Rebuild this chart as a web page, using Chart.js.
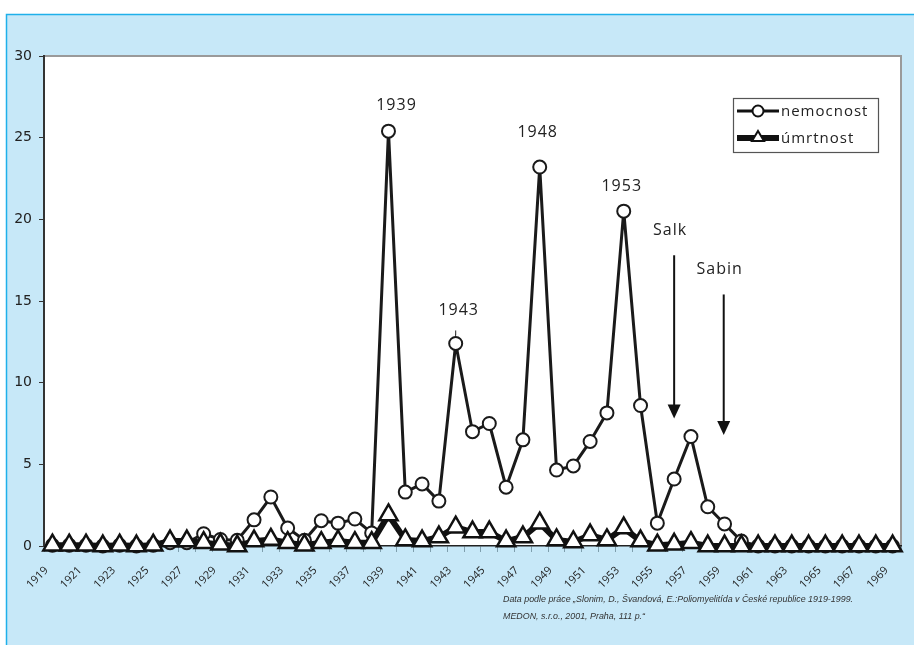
<!DOCTYPE html>
<html lang="cs">
<head>
  <meta charset="UTF-8" />
  <title>Poliomyelitida 1919-1969</title>
  <script src="https://cdn.jsdelivr.net/npm/chart.js"></script>
  <style>
    body { margin: 0; background: #ffffff; }
    #wrap { width: 914px; height: 645px; position: relative; }
  </style>
</head>
<body>
<div id="wrap"><canvas id="polioChart"></canvas></div>

<script>
  // kategorie (roky)
  const years = [
    "1919","1920","1921","1922","1923","1924","1925","1926","1927","1928",
    "1929","1930","1931","1932","1933","1934","1935","1936","1937","1938",
    "1939","1940","1941","1942","1943","1944","1945","1946","1947","1948",
    "1949","1950","1951","1952","1953","1954","1955","1956","1957","1958",
    "1959","1960","1961","1962","1963","1964","1965","1966","1967","1968","1969"
  ];

  // nemocnost (na 100 000 obyv.)
  const nemocnost = [
    0.05, 0.05, 0.05, 0, 0.05, 0, 0.05, 0.2, 0.2, 0.75,
    0.4, 0.35, 1.6, 3.0, 1.1, 0.35, 1.55, 1.4, 1.65, 0.8,
    25.4, 3.3, 3.8, 2.75, 12.4, 7.0, 7.5, 3.6, 6.5, 23.2,
    4.65, 4.9, 6.4, 8.15, 20.5, 8.6, 1.4, 4.1, 6.7, 2.4,
    1.35, 0.3, 0, 0, 0, 0, 0, 0, 0, 0, 0
  ];

  // úmrtnost
  const umrtnost = [
    0.05, 0.05, 0.05, 0, 0.05, 0, 0.05, 0.3, 0.3, 0.2,
    0.1, 0, 0.3, 0.4, 0.2, 0.05, 0.2, 0.3, 0.2, 0.2,
    1.9, 0.37, 0.3, 0.55, 1.15, 0.85, 0.85, 0.3, 0.55, 1.4,
    0.37, 0.25, 0.67, 0.37, 1.1, 0.3, 0.05, 0.1, 0.2, 0,
    0, 0, 0, 0, 0, 0, 0, 0, 0, 0, 0
  ];

  const yTicks = [0, 5, 10, 15, 20, 25, 30];

  // popisky epidemií: [text, index roku, hodnota]
  const peakLabels = [
    ["1939", 20, 25.4],
    ["1943", 24, 12.4],
    ["1948", 29, 23.2],
    ["1953", 34, 20.5]
  ];

  // šipky očkování: [text, index (x), začátek, konec]
  const vaccineArrows = [
    ["Salk", 37, 17.8, 7.8],
    ["Sabin", 39.95, 15.4, 6.8]
  ];

  const sourceLines = [
    "Data podle práce \u201ESlonim, D., \u0160vandov\u00E1, E.:Poliomyelit\u00EDda v \u010Cesk\u00E9 republice 1919-1999.",
    "MEDON, s.r.o., 2001, Praha, 111 p.\u201C"
  ];

  const annoFont = "16px 'Open Sans', sans-serif";
  // posun popisků vůči bodu (px)
  const peakShift = { "1939": [8, -21], "1943": [3, -28], "1948": [-2, -30], "1953": [-2, -20] };

  const backdrop = {
    id: 'backdrop',
    beforeDraw(chart) {
      const ctx = chart.ctx;
      const a = chart.chartArea;
      ctx.save();
      ctx.fillStyle = '#c7e8f8';
      ctx.fillRect(6, 14, chart.width, chart.height);
      ctx.strokeStyle = '#1fb0ea';
      ctx.lineWidth = 1.5;
      ctx.beginPath();
      ctx.moveTo(chart.width + 2, 14.5);
      ctx.lineTo(6.5, 14.5);
      ctx.lineTo(6.5, chart.height + 2);
      ctx.stroke();
      ctx.fillStyle = '#ffffff';
      ctx.fillRect(a.left, a.top, a.right - a.left, a.bottom - a.top);
      ctx.strokeStyle = '#9a9a9a';
      ctx.lineWidth = 2;
      ctx.beginPath();
      ctx.moveTo(a.left, a.top);
      ctx.lineTo(a.right, a.top);
      ctx.lineTo(a.right, a.bottom + 4);
      ctx.stroke();
      ctx.restore();
    }
  };

  const notes = {
    id: 'notes',
    afterDraw(chart) {
      const ctx = chart.ctx;
      const xs = chart.scales.x;
      const ys = chart.scales.y;
      ctx.save();
      ctx.fillStyle = '#222';
      ctx.font = annoFont;
      ctx.textAlign = 'center';
      ctx.textBaseline = 'alphabetic';
      if ('letterSpacing' in ctx) ctx.letterSpacing = '1px';

      peakLabels.forEach(([txt, i, v]) => {
        const x = xs.getPixelForValue(i);
        const y = ys.getPixelForValue(v);
        const s = peakShift[txt];
        ctx.fillText(txt, x + s[0], y + s[1]);
      });
      // malá čárka nad 1943
      const x43 = xs.getPixelForValue(24), y43 = ys.getPixelForValue(12.4);
      ctx.strokeStyle = '#222';
      ctx.lineWidth = 1;
      ctx.beginPath();
      ctx.moveTo(x43, y43 - 8);
      ctx.lineTo(x43, y43 - 13);
      ctx.stroke();

      vaccineArrows.forEach(([txt, i, v0, v1]) => {
        const x = xs.getPixelForValue(i);
        const y0 = ys.getPixelForValue(v0);
        const y1 = ys.getPixelForValue(v1);
        ctx.fillStyle = '#222';
        ctx.fillText(txt, x - 4, y0 - 20);
        ctx.strokeStyle = '#111';
        ctx.lineWidth = 2;
        ctx.beginPath();
        ctx.moveTo(x, y0);
        ctx.lineTo(x, y1 - 12);
        ctx.stroke();
        ctx.fillStyle = '#111';
        ctx.beginPath();
        ctx.moveTo(x - 6.5, y1 - 14);
        ctx.lineTo(x + 6.5, y1 - 14);
        ctx.lineTo(x, y1);
        ctx.closePath();
        ctx.fill();
      });

      // legenda
      const lx = 733, ly = 98, lw = 145, lh = 54;
      ctx.fillStyle = '#ffffff';
      ctx.fillRect(lx, ly, lw, lh);
      ctx.strokeStyle = '#555';
      ctx.lineWidth = 1.2;
      ctx.strokeRect(lx + 0.5, ly + 0.5, lw, lh);

      ctx.strokeStyle = '#111';
      ctx.lineWidth = 3;
      ctx.beginPath();
      ctx.moveTo(lx + 4, ly + 13);
      ctx.lineTo(lx + 46, ly + 13);
      ctx.stroke();
      ctx.fillStyle = '#fff';
      ctx.lineWidth = 2;
      ctx.beginPath();
      ctx.arc(lx + 25, ly + 13, 5.5, 0, Math.PI * 2);
      ctx.fill();
      ctx.stroke();

      ctx.lineWidth = 6;
      ctx.beginPath();
      ctx.moveTo(lx + 4, ly + 40);
      ctx.lineTo(lx + 46, ly + 40);
      ctx.stroke();
      ctx.fillStyle = '#fff';
      ctx.lineWidth = 2;
      ctx.beginPath();
      ctx.moveTo(lx + 25, ly + 33);
      ctx.lineTo(lx + 31, ly + 43);
      ctx.lineTo(lx + 19, ly + 43);
      ctx.closePath();
      ctx.fill();
      ctx.stroke();

      ctx.fillStyle = '#222';
      ctx.font = "15px 'Open Sans', sans-serif";
      ctx.textAlign = 'left';
      ctx.textBaseline = 'middle';
      ctx.fillText('nemocnost', lx + 48, ly + 14);
      ctx.fillText('\u00FAmrtnost', lx + 48, ly + 41);

      // zdroj
      if ('letterSpacing' in ctx) ctx.letterSpacing = '0px';
      ctx.font = "italic 9.5px 'Liberation Sans', Arial, sans-serif";
      ctx.fillStyle = '#333';
      ctx.textBaseline = 'alphabetic';
      ctx.translate(503, 0);
      ctx.scale(0.935, 1);
      ctx.fillText(sourceLines[0], 0, 602);
      ctx.fillText(sourceLines[1], 0, 619);
      ctx.restore();
    }
  };

  new Chart(document.getElementById('polioChart'), {
    type: 'line',
    data: {
      labels: years,
      datasets: [
        {
          label: 'nemocnost',
          data: nemocnost,
          borderColor: '#1a1a1a',
          borderWidth: 3,
          pointStyle: 'circle',
          pointRadius: 6.5,
          pointBorderWidth: 2,
          pointBackgroundColor: '#ffffff',
          pointBorderColor: '#1a1a1a',
          tension: 0,
          clip: false,
          order: 1
        },
        {
          label: '\u00FAmrtnost',
          data: umrtnost,
          borderColor: '#111111',
          borderWidth: 6,
          pointStyle: 'triangle',
          pointRadius: 10.5,
          pointBorderWidth: 2.5,
          pointBackgroundColor: '#ffffff',
          pointBorderColor: '#111111',
          tension: 0,
          clip: false,
          order: 0
        }
      ]
    },
    options: {
      responsive: true,
      maintainAspectRatio: false,
      animation: false,
      layout: { padding: { top: 56, right: 4, left: 0, bottom: 0 } },
      plugins: {
        legend: { display: false },
        tooltip: { enabled: false }
      },
      scales: {
        x: {
          offset: true,
          afterFit(scale) {
            scale.height = 99;
            scale.paddingLeft = 0;
            scale.paddingRight = 0;
          },
          grid: {
            offset: true,
            drawOnChartArea: false,
            tickLength: 6,
            color: '#7f9fae'
          },
          border: { color: '#222', width: 1.5 },
          ticks: {
            autoSkip: false,
            maxRotation: 45,
            minRotation: 45,
            labelOffset: -6,
            padding: 12,
            color: '#222',
            font: { family: "'Open Sans', sans-serif", size: 11 },
            callback(val, idx) { return idx % 2 === 0 ? years[idx] : ''; }
          }
        },
        y: {
          min: 0,
          max: 30,
          afterFit(scale) {
            scale.width = 44;
            scale.paddingTop = 0;
            scale.paddingBottom = 0;
          },
          afterBuildTicks(scale) { scale.ticks = yTicks.map(v => ({ value: v })); },
          grid: {
            drawOnChartArea: false,
            tickLength: 5,
            color: '#333'
          },
          border: { color: '#333', width: 2 },
          ticks: {
            padding: 7,
            color: '#222',
            font: { family: "'DejaVu Sans', sans-serif", size: 14 }
          }
        }
      }
    },
    plugins: [backdrop, notes]
  });
</script>
</body>
</html>
